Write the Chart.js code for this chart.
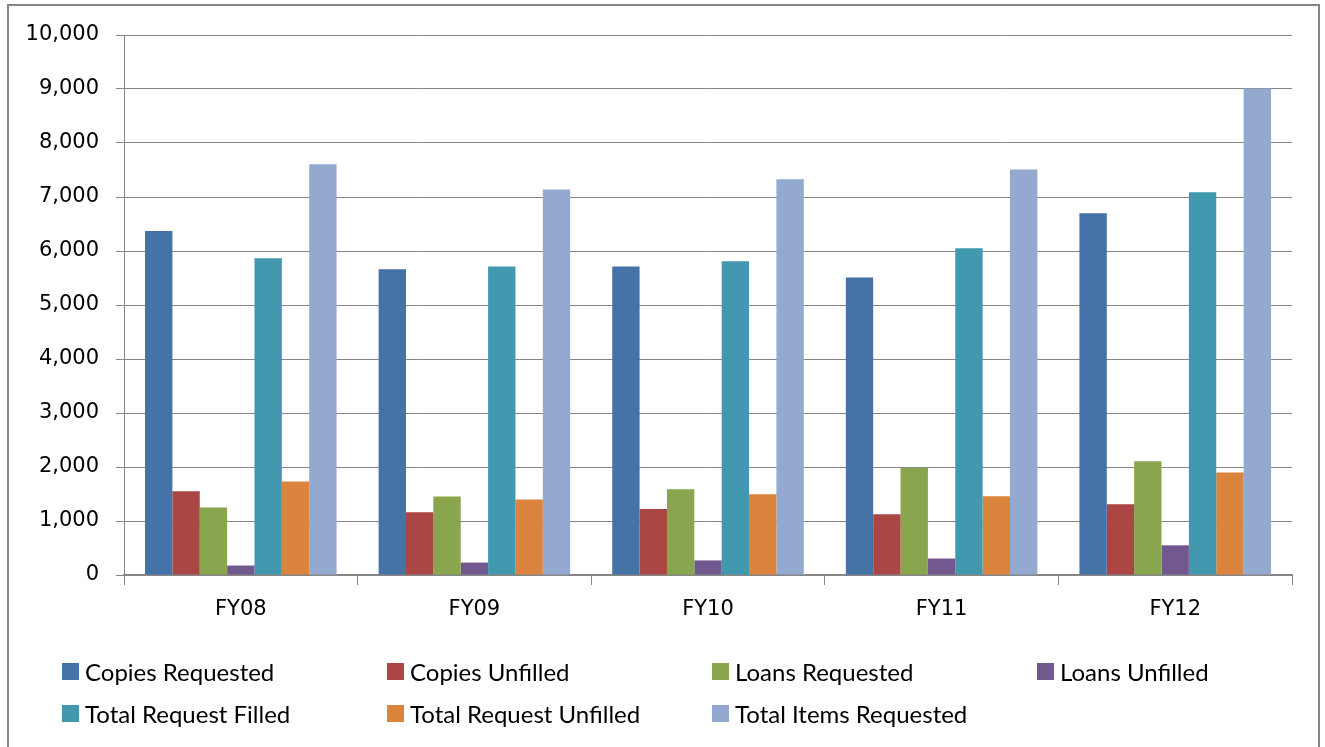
<!DOCTYPE html>
<html>
<head>
<meta charset="utf-8">
<script src="https://cdn.jsdelivr.net/npm/chart.js@4.4.1/dist/chart.umd.min.js"></script>
<style>
  html, body { margin: 0; padding: 0; background: #fff; }
  body { width: 1325px; height: 747px; position: relative; overflow: hidden; }
  #frame { position: absolute; left: 7px; top: 4px; width: 1313px; height: 800px;
           box-sizing: border-box; border: 2px solid #868686; }
  #wrap { position: absolute; left: 0; top: 0; width: 1325px; height: 747px; }
  #legend { position: absolute; left: 62px; top: 650px; display: grid;
            grid-template-columns: repeat(4, 325px); grid-auto-rows: 42px;
            font-family: Lato, sans-serif; font-size: 24px; color: #000; }
  #legend .item { display: flex; align-items: center; white-space: nowrap; }
  #legend .box { width: 17px; height: 17px; margin-right: 6px; flex: none; }
</style>
</head>
<body>
<div id="frame"></div>
<div id="wrap"><canvas id="chart"></canvas></div>
<div id="legend"></div>
<script>
(function () {
  "use strict";

  var categories = ["FY08", "FY09", "FY10", "FY11", "FY12"];

  var copiesRequested   = [6370, 5660, 5715, 5510, 6700];
  var copiesUnfilled    = [1550, 1160, 1220, 1125, 1310];
  var loansRequested    = [1250, 1455, 1590, 1985, 2105];
  var loansUnfilled     = [175, 230, 270, 305, 550];
  var totalFilled       = [5865, 5715, 5810, 6050, 7090];
  var totalUnfilled     = [1730, 1400, 1495, 1460, 1900];
  var totalItems        = [7605, 7140, 7330, 7510, 9010];

  var seriesNames = ["Copies Requested", "Copies Unfilled", "Loans Requested", "Loans Unfilled",
                     "Total Request Filled", "Total Request Unfilled", "Total Items Requested"];
  var seriesData = [copiesRequested, copiesUnfilled, loansRequested, loansUnfilled,
                    totalFilled, totalUnfilled, totalItems];
  var seriesColors = ["#4572A7", "#AA4643", "#89A54E", "#71588F", "#4198AF", "#DB843D", "#93A9CF"];

  var datasets = seriesNames.map(function (name, i) {
    return {
      label: name,
      data: seriesData[i],
      backgroundColor: seriesColors[i],
      borderWidth: 0,
      categoryPercentage: 0.82,
      barPercentage: 1.0
    };
  });

  var canvas = document.getElementById("chart");
  canvas.width = 1325;
  canvas.height = 747;

  new Chart(canvas, {
    type: "bar",
    data: { labels: categories, datasets: datasets },
    options: {
      responsive: false,
      animation: false,
      layout: { padding: { left: 0, right: 33, top: 35, bottom: 0 } },
      plugins: {
        legend: { display: false },
        tooltip: { enabled: false }
      },
      scales: {
        x: {
          offset: true,
          afterFit: function (scale) { scale.height = 172; },
          grid: {
            offset: true,
            drawOnChartArea: false,
            drawTicks: true,
            tickLength: 10,
            color: "#868686",
            lineWidth: 1
          },
          border: { display: true, color: "#868686", width: 2 },
          ticks: {
            color: "#000",
            padding: 12,
            font: { family: "'DejaVu Sans'", size: 21 }
          }
        },
        y: {
          min: 0,
          max: 10000,
          afterFit: function (scale) { scale.width = 124; },
          grid: {
            color: "#868686",
            lineWidth: 1,
            drawTicks: true,
            tickLength: 8
          },
          border: { display: true, color: "#868686", width: 1 },
          ticks: {
            stepSize: 1000,
            color: "#000",
            padding: 17,
            font: { family: "'DejaVu Sans'", size: 21 },
            callback: function (v) { return Number(v).toLocaleString("en-US"); }
          }
        }
      }
    }
  });

  // legend laid out in fixed columns like the original
  var legend = document.getElementById("legend");
  seriesNames.forEach(function (name, i) {
    var item = document.createElement("div");
    item.className = "item";
    var box = document.createElement("span");
    box.className = "box";
    box.style.background = seriesColors[i];
    var txt = document.createElement("span");
    txt.textContent = name;
    item.appendChild(box);
    item.appendChild(txt);
    legend.appendChild(item);
  });
})();
</script>
</body>
</html>
